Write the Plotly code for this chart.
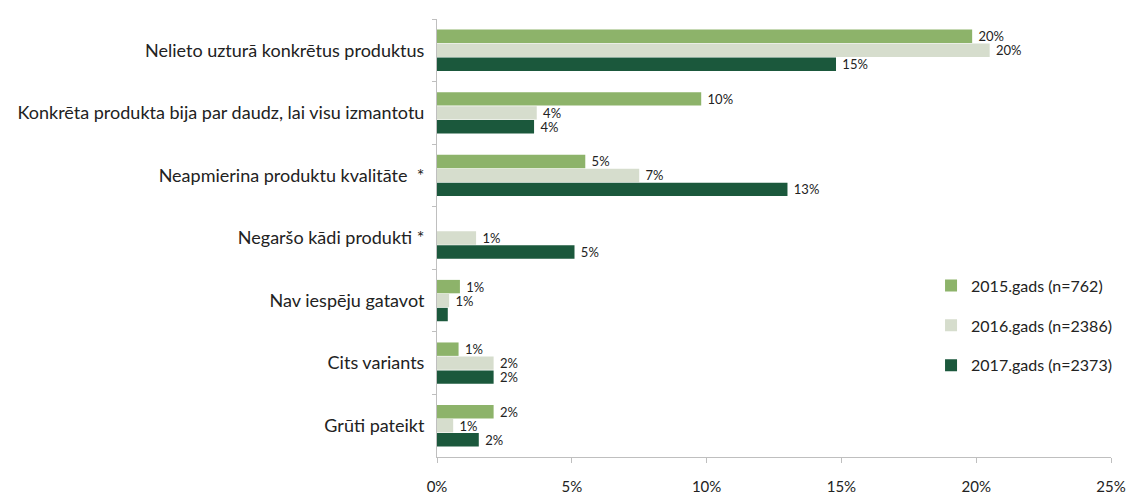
import plotly.graph_objects as go

categories = [
    "Nelieto uzturā konkrētus produktus",
    "Konkrēta produkta bija par daudz, lai visu izmantotu",
    "Neapmierina produktu kvalitāte  *",
    "Negaršo kādi produkti *",
    "Nav iespēju gatavot",
    "Cits variants",
    "Grūti pateikt",
]
series_names = ["2015.gads (n=762)", "2016.gads (n=2386)", "2017.gads (n=2373)"]
v2015 = [19.85, 9.8, 5.5, 0, 0.85, 0.8, 2.1]
v2016 = [20.5, 3.7, 7.5, 1.45, 0.45, 2.1, 0.6]
v2017 = [14.8, 3.6, 13.0, 5.1, 0.4, 2.1, 1.55]
t2015 = ["20%", "10%", "5%", "", "1%", "1%", "2%"]
t2016 = ["20%", "4%", "7%", "1%", "1%", "2%", "1%"]
t2017 = ["15%", "4%", "13%", "5%", "", "2%", "2%"]
colors = ["#8db36a", "#d6ddcd", "#1b583c"]
x_ticks = [0, 5, 10, 15, 20, 25]
x_ticklabels = ["0%", "5%", "10%", "15%", "20%", "25%"]

font_family = "Lato, 'Open Sans', sans-serif"

fig = go.Figure()
for name, vals, txt, col in zip(series_names, [v2015, v2016, v2017], [t2015, t2016, t2017], colors):
    fig.add_trace(go.Bar(
        y=categories, x=vals, orientation="h", name=name,
        marker=dict(color=col, line=dict(width=0)),
        text=["\u00a0" + t if t else "" for t in txt],
        textposition="outside", cliponaxis=False, constraintext="none",
        textfont=dict(size=13, color="#222222", family=font_family),
        legendgroup=name,
    ))

fig.update_layout(
    width=1129, height=495,
    margin=dict(l=437, r=12, t=19, b=38),
    paper_bgcolor="white", plot_bgcolor="white",
    barmode="group", bargap=0.33, bargroupgap=0.04,
    font=dict(family=font_family, size=16, color="#222222"),
    showlegend=True,
    legend=dict(x=0.733, y=0.43, xanchor="left", yanchor="top",
                font=dict(size=16, color="#222222"),
                tracegroupgap=16, bgcolor="rgba(0,0,0,0)"),
)
fig.update_xaxes(range=[0, 25], tickvals=x_ticks, ticktext=x_ticklabels,
                 showgrid=False, zeroline=False, showline=True, linecolor="#bfbfbf",
                 ticks="outside", ticklen=5, tickcolor="#bfbfbf", automargin=False,
                 tickfont=dict(size=15), ticklabelstandoff=11)
fig.update_yaxes(autorange="reversed", showgrid=False, showline=True, linecolor="#bfbfbf",
                 ticks="outside", ticklen=4, tickcolor="#bfbfbf", tickson="boundaries",
                 automargin=False, tickfont=dict(size=18), ticklabelstandoff=8)

fig.write_html("out.html", config={"displayModeBar": False},
               post_script="document.body.style.margin='0';")
